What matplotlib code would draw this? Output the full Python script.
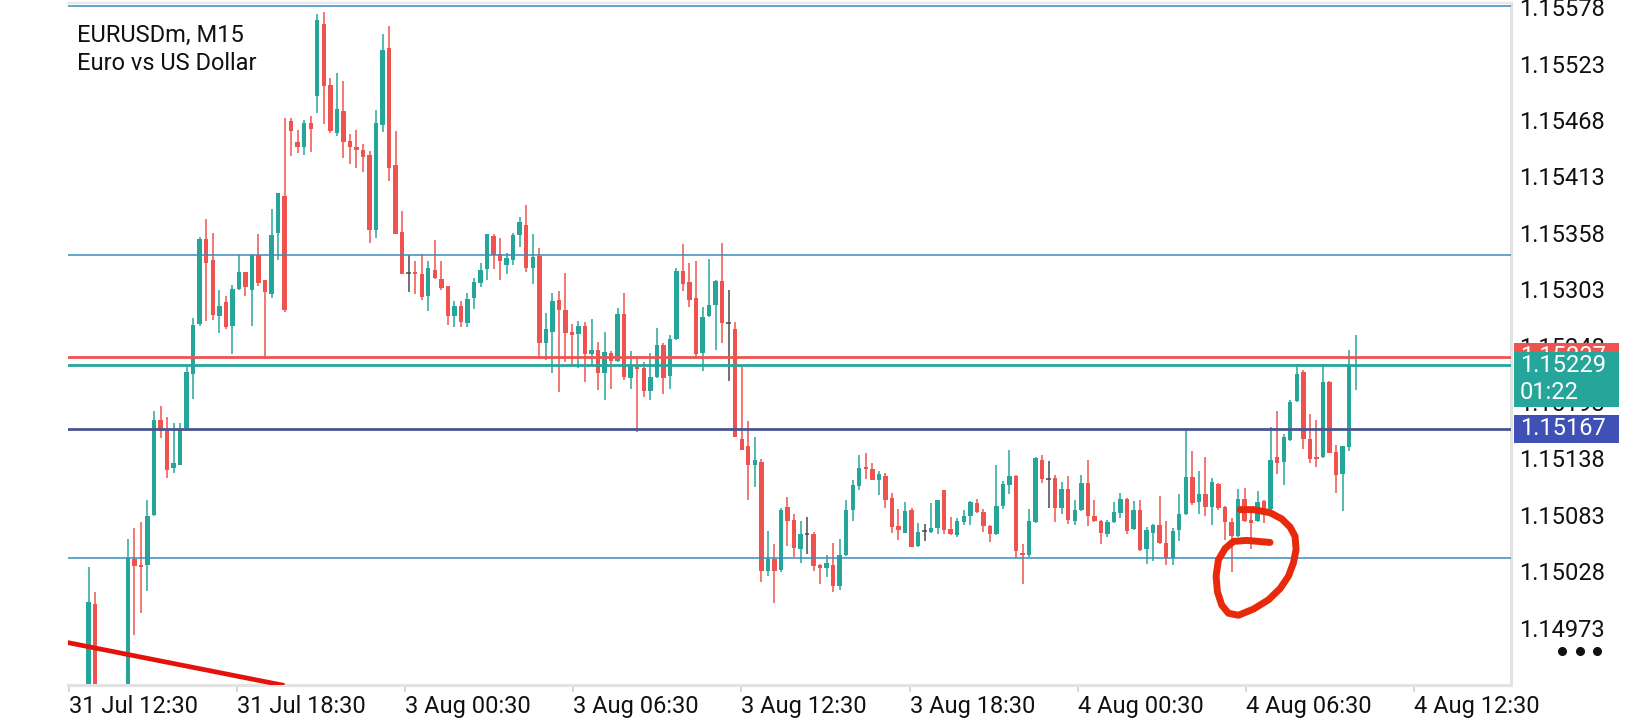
import matplotlib.pyplot as plt
import matplotlib.transforms as mtransforms
from matplotlib.patches import Rectangle
from matplotlib.lines import Line2D
import numpy as np

plt.rcParams['font.family'] = ['Roboto', 'DejaVu Sans']

# EURUSDm M15 candles (bar index = position on chart)
opens = [1.14880, 1.14895, 1.14878, 1.14890, 1.14996, 1.14880, 1.14868, 1.14885, 1.14900, 1.14892,
         1.15040, 1.15034, 1.15034, 1.15083, 1.15175, 1.15165, 1.15129, 1.15132, 1.15168, 1.15220,
         1.15269, 1.15352, 1.15331, 1.15277, 1.15290, 1.15267, 1.15303, 1.15320, 1.15302, 1.15336,
         1.15312, 1.15298, 1.15358, 1.15394, 1.15467, 1.15446, 1.15442, 1.15465, 1.15491, 1.15562,
         1.15502, 1.15455, 1.15477, 1.15447, 1.15442, 1.15439, 1.15434, 1.15361, 1.15463, 1.15538,
         1.15424, 1.15359, 1.15318, 1.15320, 1.15318, 1.15296, 1.15322, 1.15313, 1.15306, 1.15277,
         1.15287, 1.15270, 1.15294, 1.15309, 1.15323, 1.15355, 1.15337, 1.15327, 1.15331, 1.15356,
         1.15366, 1.15324, 1.15335, 1.15250, 1.15261, 1.15292, 1.15283, 1.15261, 1.15259, 1.15267,
         1.15240, 1.15244, 1.15221, 1.15241, 1.15233, 1.15279, 1.15216, 1.15227, 1.15226, 1.15204,
         1.15217, 1.15249, 1.15218, 1.15254, 1.15321, 1.15310, 1.15294, 1.15241, 1.15277, 1.15288,
         1.15311, 1.15270, 1.15264, 1.15157, 1.15150, 1.15132, 1.15134, 1.15028, 1.15040, 1.15029,
         1.15091, 1.15078, 1.15050, 1.15064, 1.15064, 1.15034, 1.15031, 1.15034, 1.15014, 1.15044,
         1.15088, 1.15111, 1.15130, 1.15128, 1.15117, 1.15121, 1.15099, 1.15072, 1.15065, 1.15088,
         1.15053, 1.15067, 1.15066, 1.15070, 1.15107, 1.15069, 1.15063, 1.15076, 1.15082, 1.15094,
         1.15086, 1.15072, 1.15064, 1.15092, 1.15112, 1.15121, 1.15046, 1.15044, 1.15076, 1.15136,
         1.15118, 1.15119, 1.15090, 1.15108, 1.15077, 1.15088, 1.15114, 1.15082, 1.15077, 1.15064,
         1.15076, 1.15085, 1.15098, 1.15069, 1.15088, 1.15050, 1.15065, 1.15073, 1.15055, 1.15041,
         1.15068, 1.15084, 1.15120, 1.15095, 1.15103, 1.15091, 1.15113, 1.15091, 1.15076, 1.15062,
         1.15098, 1.15078, 1.15077, 1.15096, 1.15089, 1.15139, 1.15134, 1.15156, 1.15194, 1.15222,
         1.15157, 1.15139, 1.15139, 1.15212, 1.15144, 1.15123, 1.15149, 1.15227]
highs = [1.14905, 1.14910, 1.14898, 1.15032, 1.15008, 1.14905, 1.14895, 1.14910, 1.14912, 1.15059,
         1.15070, 1.15076, 1.15097, 1.15184, 1.15189, 1.15178, 1.15172, 1.15172, 1.15227, 1.15275,
         1.15354, 1.15371, 1.15358, 1.15302, 1.15296, 1.15307, 1.15336, 1.15320, 1.15336, 1.15357,
         1.15312, 1.15381, 1.15397, 1.15470, 1.15470, 1.15458, 1.15468, 1.15472, 1.15571, 1.15573,
         1.15509, 1.15514, 1.15506, 1.15454, 1.15458, 1.15445, 1.15438, 1.15478, 1.15552, 1.15560,
         1.15457, 1.15379, 1.15336, 1.15330, 1.15337, 1.15330, 1.15351, 1.15330, 1.15306, 1.15291,
         1.15291, 1.15299, 1.15314, 1.15328, 1.15357, 1.15357, 1.15353, 1.15338, 1.15358, 1.15373,
         1.15385, 1.15357, 1.15343, 1.15280, 1.15299, 1.15301, 1.15319, 1.15269, 1.15272, 1.15271,
         1.15274, 1.15251, 1.15261, 1.15243, 1.15285, 1.15299, 1.15243, 1.15238, 1.15232, 1.15241,
         1.15265, 1.15250, 1.15258, 1.15324, 1.15347, 1.15328, 1.15330, 1.15286, 1.15332, 1.15312,
         1.15348, 1.15302, 1.15271, 1.15228, 1.15174, 1.15159, 1.15137, 1.15067, 1.15054, 1.15090,
         1.15100, 1.15084, 1.15077, 1.15081, 1.15066, 1.15035, 1.15044, 1.15055, 1.15059, 1.15097,
         1.15117, 1.15141, 1.15143, 1.15133, 1.15126, 1.15124, 1.15104, 1.15089, 1.15095, 1.15090,
         1.15075, 1.15074, 1.15094, 1.15097, 1.15107, 1.15081, 1.15080, 1.15088, 1.15096, 1.15098,
         1.15089, 1.15073, 1.15132, 1.15116, 1.15146, 1.15122, 1.15054, 1.15089, 1.15139, 1.15141,
         1.15135, 1.15122, 1.15115, 1.15121, 1.15097, 1.15122, 1.15136, 1.15097, 1.15078, 1.15078,
         1.15095, 1.15104, 1.15099, 1.15096, 1.15097, 1.15071, 1.15074, 1.15101, 1.15077, 1.15070,
         1.15103, 1.15167, 1.15145, 1.15126, 1.15139, 1.15119, 1.15114, 1.15092, 1.15080, 1.15108,
         1.15109, 1.15090, 1.15106, 1.15097, 1.15169, 1.15184, 1.15162, 1.15195, 1.15230, 1.15224,
         1.15181, 1.15175, 1.15230, 1.15213, 1.15151, 1.15150, 1.15244, 1.15258]
lows = [1.14862, 1.14870, 1.14860, 1.14880, 1.14860, 1.14850, 1.14840, 1.14870, 1.14875, 1.14885,
        1.14966, 1.14987, 1.15009, 1.15082, 1.15158, 1.15119, 1.15124, 1.15132, 1.15166, 1.15196,
        1.15267, 1.15272, 1.15273, 1.15260, 1.15264, 1.15240, 1.15302, 1.15296, 1.15267, 1.15306,
        1.15235, 1.15294, 1.15331, 1.15281, 1.15433, 1.15436, 1.15434, 1.15437, 1.15475, 1.15464,
        1.15455, 1.15452, 1.15431, 1.15425, 1.15421, 1.15417, 1.15348, 1.15353, 1.15456, 1.15408,
        1.15357, 1.15318, 1.15300, 1.15298, 1.15292, 1.15282, 1.15313, 1.15302, 1.15268, 1.15266,
        1.15266, 1.15266, 1.15284, 1.15305, 1.15312, 1.15323, 1.15312, 1.15318, 1.15327, 1.15344,
        1.15320, 1.15308, 1.15237, 1.15234, 1.15221, 1.15203, 1.15232, 1.15228, 1.15226, 1.15212,
        1.15230, 1.15205, 1.15195, 1.15206, 1.15232, 1.15214, 1.15206, 1.15164, 1.15198, 1.15195,
        1.15216, 1.15201, 1.15206, 1.15253, 1.15301, 1.15286, 1.15235, 1.15223, 1.15276, 1.15244,
        1.15250, 1.15213, 1.15159, 1.15146, 1.15097, 1.15110, 1.15017, 1.15023, 1.14997, 1.15027,
        1.15053, 1.15042, 1.15036, 1.15045, 1.15028, 1.15015, 1.15022, 1.15008, 1.15010, 1.15043,
        1.15077, 1.15107, 1.15118, 1.15117, 1.15102, 1.15090, 1.15065, 1.15058, 1.15065, 1.15052,
        1.15052, 1.15057, 1.15065, 1.15064, 1.15064, 1.15063, 1.15061, 1.15073, 1.15073, 1.15085,
        1.15066, 1.15056, 1.15063, 1.15089, 1.15103, 1.15041, 1.15015, 1.15042, 1.15075, 1.15114,
        1.15090, 1.15076, 1.15084, 1.15074, 1.15073, 1.15087, 1.15072, 1.15076, 1.15054, 1.15061,
        1.15075, 1.15080, 1.15064, 1.15068, 1.15048, 1.15035, 1.15038, 1.15054, 1.15034, 1.15034,
        1.15057, 1.15083, 1.15093, 1.15084, 1.15082, 1.15073, 1.15088, 1.15058, 1.15027, 1.15061,
        1.15076, 1.15050, 1.15076, 1.15075, 1.15088, 1.15123, 1.15112, 1.15155, 1.15193, 1.15147,
        1.15133, 1.15130, 1.15138, 1.15143, 1.15104, 1.15087, 1.15145, 1.15205]
closes = [1.14895, 1.14878, 1.14890, 1.14998, 1.14880, 1.14868, 1.14885, 1.14900, 1.14892, 1.15041,
          1.15033, 1.15032, 1.15082, 1.15175, 1.15165, 1.15127, 1.15133, 1.15167, 1.15222, 1.15268,
          1.15352, 1.15328, 1.15278, 1.15287, 1.15266, 1.15303, 1.15320, 1.15305, 1.15336, 1.15309,
          1.15300, 1.15356, 1.15397, 1.15283, 1.15457, 1.15442, 1.15465, 1.15459, 1.15565, 1.15501,
          1.15457, 1.15479, 1.15446, 1.15442, 1.15439, 1.15432, 1.15361, 1.15465, 1.15536, 1.15421,
          1.15357, 1.15318, 1.15319, 1.15318, 1.15295, 1.15324, 1.15314, 1.15304, 1.15277, 1.15287,
          1.15271, 1.15293, 1.15310, 1.15322, 1.15357, 1.15336, 1.15330, 1.15333, 1.15356, 1.15368,
          1.15324, 1.15334, 1.15250, 1.15264, 1.15291, 1.15283, 1.15260, 1.15258, 1.15267, 1.15240,
          1.15244, 1.15221, 1.15242, 1.15233, 1.15279, 1.15217, 1.15227, 1.15225, 1.15204, 1.15217,
          1.15249, 1.15216, 1.15254, 1.15321, 1.15308, 1.15292, 1.15240, 1.15276, 1.15288, 1.15311,
          1.15270, 1.15270, 1.15159, 1.15146, 1.15132, 1.15136, 1.15028, 1.15040, 1.15028, 1.15088,
          1.15077, 1.15051, 1.15064, 1.15064, 1.15033, 1.15031, 1.15036, 1.15014, 1.15044, 1.15088,
          1.15112, 1.15129, 1.15128, 1.15117, 1.15123, 1.15097, 1.15071, 1.15068, 1.15087, 1.15052,
          1.15066, 1.15067, 1.15070, 1.15097, 1.15068, 1.15064, 1.15077, 1.15082, 1.15095, 1.15086,
          1.15072, 1.15064, 1.15092, 1.15113, 1.15121, 1.15048, 1.15044, 1.15077, 1.15138, 1.15118,
          1.15118, 1.15090, 1.15108, 1.15078, 1.15088, 1.15114, 1.15082, 1.15077, 1.15065, 1.15076,
          1.15086, 1.15098, 1.15067, 1.15088, 1.15049, 1.15068, 1.15073, 1.15055, 1.15041, 1.15067,
          1.15084, 1.15120, 1.15094, 1.15103, 1.15091, 1.15115, 1.15090, 1.15076, 1.15062, 1.15098,
          1.15077, 1.15075, 1.15095, 1.15089, 1.15136, 1.15133, 1.15159, 1.15193, 1.15220, 1.15157,
          1.15137, 1.15137, 1.15212, 1.15143, 1.15122, 1.15150, 1.15228, 1.15229]

price_ticks = [1.14973, 1.15028, 1.15083, 1.15138, 1.15193, 1.15248,
               1.15303, 1.15358, 1.15413, 1.15468, 1.15523, 1.15578]
time_labels = ['31 Jul 12:30', '31 Jul 18:30', '3 Aug 00:30', '3 Aug 06:30', '3 Aug 12:30',
               '3 Aug 18:30', '4 Aug 00:30', '4 Aug 06:30', '4 Aug 12:30']
bars_per_label = 25.74

level_prices = [1.15579, 1.15336, 1.15041]   # drawn horizontal lines
ask_price = 1.15237
bid_price = 1.15229
alert_price = 1.15167
timer_text = '01:22'

# hand drawn annotations (bar index, price)
trend_pts = [(0.08, 1.14958), (31.8, 1.14918)]
circle_bar = [179.31, 181.35, 183.90, 185.69, 186.97, 187.73, 187.89, 187.48, 186.71, 185.44,
              183.65, 181.35, 179.06, 177.52, 176.50, 175.84, 175.64, 175.99, 177.01, 178.29,
              180.33, 183.90]
circle_price = [1.15088, 1.15088, 1.15085, 1.15079, 1.15071, 1.15062, 1.15049, 1.15036, 1.15023,
                1.15011, 1.15000, 1.14991, 1.14985, 1.14987, 1.14995, 1.15008, 1.15023, 1.15039,
                1.15050, 1.15057, 1.15058, 1.15056]

TEAL = '#26a69a'
RED = '#ef5350'
DOJI = '#4a4a4a'
NAVY_BOX = '#3f51b5'
LEVEL = '#3a8bbd'

W, H = 1640, 720
fig = plt.figure(figsize=(W / 100, H / 100), dpi=100)
fig.patch.set_facecolor('white')
ax = fig.add_axes([68 / W, 1 - 685 / H, (1511 - 68) / W, (685 - 3) / H])
ax.set_facecolor('white')

y_lo, y_hi = 1.14917, 1.15582
ax.set_xlim(-0.17, 220.8)
ax.set_ylim(y_lo, y_hi)
ppx = (y_hi - y_lo) / 682.0   # price per pixel

# candles
o = np.array(opens)
h = np.array(highs)
l = np.array(lows)
c = np.array(closes)
x = np.arange(len(o))
flat = np.isclose(o, c)
cols = np.where(flat, DOJI, np.where(c > o, TEAL, RED))
ax.vlines(x, l, h, colors=cols, linewidth=1.1, zorder=2)
bot = np.minimum(o, c)
hgt = np.maximum(np.abs(c - o), 1.3 * ppx)
ax.bar(x[~flat], hgt[~flat], bottom=bot[~flat], width=0.68,
       color=cols[~flat], linewidth=0, zorder=2)
ax.hlines(c[flat], x[flat] - 0.34, x[flat] + 0.34, colors=DOJI, linewidth=1.1, zorder=2)

# horizontal levels
for lv in level_prices:
    ax.axhline(lv, color=LEVEL, linewidth=1.1, zorder=3)
ax.axhline(ask_price, color=RED, linewidth=2.0, zorder=3)
ax.axhline(bid_price, color=TEAL, linewidth=2.0, zorder=3)
ax.axhline(alert_price, color='#4a5590', linewidth=2.0, zorder=3)

# annotations
ax.axline(trend_pts[0], trend_pts[1], color='#e3120b', linewidth=3.4, zorder=4)
ax.plot(circle_bar, circle_price, color='#e8290b', linewidth=5.0,
        solid_capstyle='round', solid_joinstyle='round', zorder=4)

# axes frame
ax.spines['left'].set_visible(False)
ax.spines['right'].set_color('#e2e2e2')
ax.spines['right'].set_linewidth(2.2)
ax.spines['bottom'].set_color('#e2e2e2')
ax.spines['bottom'].set_linewidth(2.2)
ax.spines['top'].set_color('#e8e8e8')
ax.spines['top'].set_linewidth(1.6)

ax.yaxis.tick_right()
ax.set_yticks(price_ticks)
ax.set_yticklabels([f'{v:.5f}' for v in price_ticks])
ax.tick_params(axis='y', length=0, pad=6, labelsize=17, labelcolor='#111111')

ax.set_xticks([k * bars_per_label for k in range(len(time_labels))])
ax.set_xticklabels(time_labels)
ax.tick_params(axis='x', length=5, width=1.5, color='#d8d8d8', pad=2,
               labelsize=17, labelcolor='#111111')
for lbl in ax.get_xticklabels():
    lbl.set_horizontalalignment('left')

# price boxes on the right scale
tr = mtransforms.blended_transform_factory(ax.transAxes, ax.transData)
bx = (1514 - 68) / (1511 - 68)
bw = 105 / (1511 - 68)
tx = (1520 - 68) / (1511 - 68)
half = 13.5 * ppx

ax.add_patch(Rectangle((bx, ask_price - half), bw, 2 * half, transform=tr,
                       facecolor=RED, edgecolor='none', clip_on=False, zorder=10))
ax.text(tx, ask_price, f'{ask_price:.5f}', transform=tr, color='white', fontsize=17,
        va='center', ha='left', clip_on=False, zorder=11)
ax.add_patch(Rectangle((bx, bid_price - 41.7 * ppx), bw, 55 * ppx, transform=tr,
                       facecolor=TEAL, edgecolor='none', clip_on=False, zorder=12))
ax.text(tx, bid_price, f'{bid_price:.5f}', transform=tr, color='white', fontsize=17,
        va='center', ha='left', clip_on=False, zorder=13)
ax.text(tx, bid_price - 27 * ppx, timer_text, transform=tr, color='white', fontsize=17,
        va='center', ha='left', clip_on=False, zorder=13)
ax.add_patch(Rectangle((bx, alert_price - 14 * ppx), bw, 28 * ppx, transform=tr,
                       facecolor=NAVY_BOX, edgecolor='none', clip_on=False, zorder=12))
ax.text(tx, alert_price, f'{alert_price:.5f}', transform=tr, color='white', fontsize=17,
        va='center', ha='left', clip_on=False, zorder=13)

# symbol caption
fig.text(77 / W, 1 - 42 / H, 'EURUSDm, M15', fontsize=17, color='#111111', va='baseline')
fig.text(77 / W, 1 - 70 / H, 'Euro vs US Dollar', fontsize=17, color='#111111', va='baseline')

# menu dots
fig.add_artist(Line2D([1562 / W, 1580 / W, 1597 / W], [1 - 651 / H] * 3, linestyle='none',
                      marker='o', markersize=5.5, color='#111111'))

fig.savefig('out.png', dpi=100, facecolor='white')
